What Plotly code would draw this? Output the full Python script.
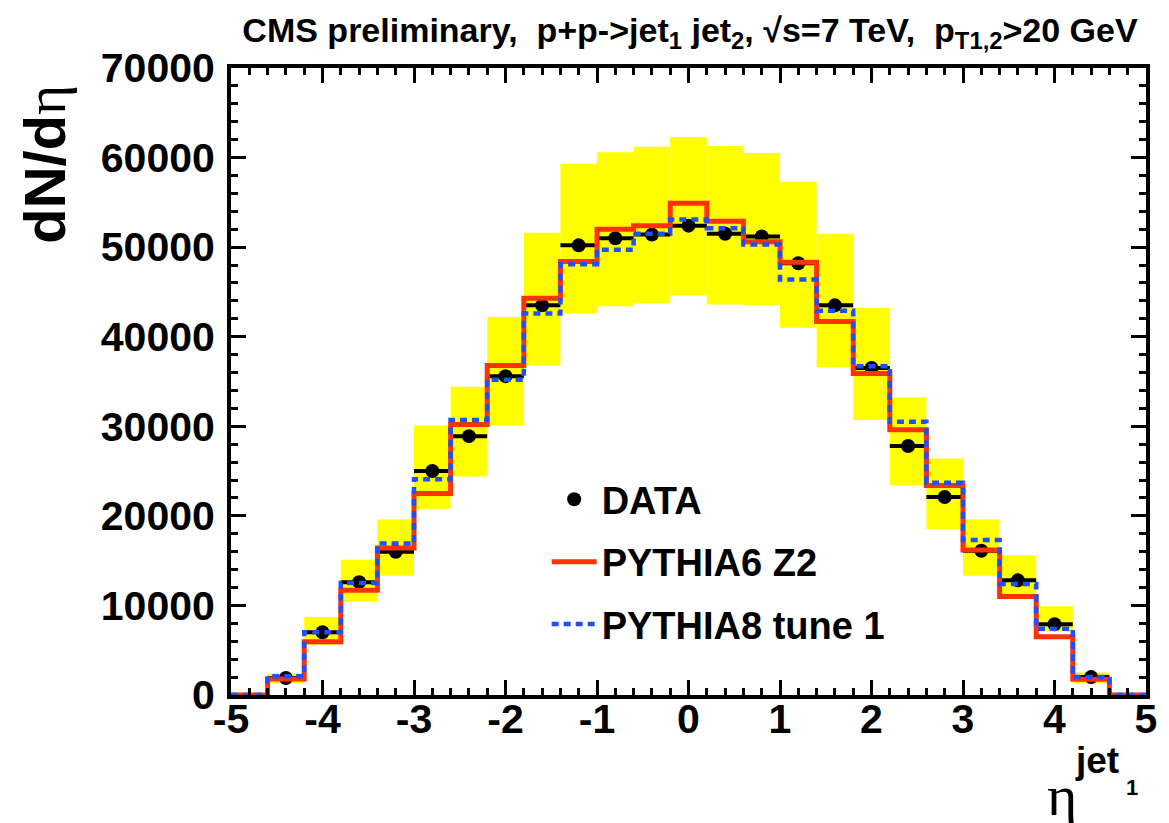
import plotly.graph_objects as go

# ---------------- data ----------------
bin_edges = [-5.0, -4.6, -4.2, -3.8, -3.4, -3.0, -2.6, -2.2, -1.8, -1.4, -1.0, -0.6, -0.2,
             0.2, 0.6, 1.0, 1.4, 1.8, 2.2, 2.6, 3.0, 3.4, 3.8, 4.2, 4.6, 5.0]

pythia6 = [0, 1800, 5950, 11700, 16400, 22500, 30200, 36800, 44300, 48400, 52000, 52400,
           54900, 52900, 50600, 48300, 41700, 35900, 29600, 23400, 16200, 11000, 6500, 1750, 0]
pythia8 = [0, 2100, 7000, 12500, 16900, 24100, 30700, 35200, 42600, 48100, 49700, 51500,
           53100, 52100, 50300, 46400, 42900, 36700, 30500, 23700, 17300, 12400, 7400, 2000, 0]

data_eta = [-4.4, -4.0, -3.6, -3.2, -2.8, -2.4, -2.0, -1.6, -1.2, -0.8, -0.4, 0.0,
            0.4, 0.8, 1.2, 1.6, 2.0, 2.4, 2.8, 3.2, 3.6, 4.0, 4.4]
data_val = [1900, 7000, 12600, 16000, 25000, 28900, 35600, 43500, 50200, 51000, 51400, 52400,
            51500, 51200, 48200, 43500, 36500, 27800, 22100, 16100, 12800, 7900, 2000]
data_xerr = [0.2] * len(data_eta)
sys_high = [2400, 8700, 15100, 19600, 30100, 34400, 42200, 51600, 59300, 60600, 61200, 62300,
            61300, 60500, 57300, 51500, 43200, 33200, 26400, 19600, 15600, 9900, 2500]
sys_low = [1300, 5600, 10400, 13300, 20800, 24400, 30100, 36800, 42600, 43400, 43700, 44600,
           43600, 43500, 41000, 36600, 30700, 23400, 18500, 13300, 10800, 7100, 1300]

x_tickvals = [-5, -4, -3, -2, -1, 0, 1, 2, 3, 4, 5]
x_ticktext = ["-5", "-4", "-3", "-2", "-1", "0", "1", "2", "3", "4", "5"]
y_tickvals = [0, 10000, 20000, 30000, 40000, 50000, 60000, 70000]
y_ticktext = ["0", "10000", "20000", "30000", "40000", "50000", "60000", "70000"]

# ---------------- style ----------------
FONT = "Liberation Sans"
RED = "#FF3300"
BLUE = "#1F4FFF"
YELLOW = "#FFFF00"

fig = go.Figure()

# systematic band
fig.add_trace(go.Bar(
    x=data_eta,
    y=[h - l for h, l in zip(sys_high, sys_low)],
    base=sys_low,
    width=0.4,
    marker=dict(color=YELLOW, line=dict(width=0)),
    showlegend=False,
    hoverinfo="skip",
))

# data points
fig.add_trace(go.Scatter(
    x=data_eta, y=data_val, mode="markers", name="DATA",
    marker=dict(color="black", size=14),
    error_x=dict(type="data", array=data_xerr, color="black", thickness=4, width=0),
    legendgroup="a",
))

# step histograms
fig.add_trace(go.Scatter(
    x=bin_edges, y=pythia6 + [pythia6[-1]], mode="lines", name="PYTHIA6 Z2",
    line=dict(color=RED, width=5, shape="hv"),
    legendgroup="b",
))
fig.add_trace(go.Scatter(
    x=bin_edges, y=pythia8 + [pythia8[-1]], mode="lines", name="PYTHIA8 tune 1",
    line=dict(color=BLUE, width=4.5, shape="hv", dash="7px,5px"),
    legendgroup="c",
))

axis_common = dict(
    showline=True, linecolor="black", linewidth=4, mirror="allticks",
    ticks="inside", tickcolor="black", tickwidth=3, ticklen=15,
    showgrid=False, zeroline=False,
    tickfont=dict(family=FONT, size=41, color="black", weight="bold"),
)

fig.update_xaxes(
    range=[-5, 5], tickmode="array", tickvals=x_tickvals, ticktext=x_ticktext,
    minor=dict(ticks="inside", dtick=0.2, ticklen=7, tickwidth=3, tickcolor="black"),
    ticklabelstandoff=-15,
    **axis_common,
)
fig.update_yaxes(
    range=[0, 70000], tickmode="array", tickvals=y_tickvals, ticktext=y_ticktext,
    minor=dict(ticks="inside", dtick=2000, ticklen=7, tickwidth=3, tickcolor="black"),
    ticklabelstandoff=4,
    **axis_common,
)

fig.update_layout(
    width=1169, height=823,
    margin=dict(l=231, r=12, t=68, b=128),
    paper_bgcolor="white", plot_bgcolor="white",
    barmode="overlay",
    title=dict(
        text="CMS preliminary,  p+p->jet<sub>1</sub> jet<sub>2</sub>, √s=7 TeV,  p<sub>T1,2</sub>>20 GeV",
        x=690 / 1169, xanchor="center", y=1 - 30 / 823, yanchor="middle",
        font=dict(family=FONT, size=34, color="black", weight="bold"),
    ),
    legend=dict(
        x=0.345, y=0.362, xanchor="left", yanchor="top",
        bgcolor="rgba(0,0,0,0)", borderwidth=0,
        font=dict(family=FONT, size=38, color="black", weight="bold"),
        tracegroupgap=10, itemwidth=45,
    ),
    showlegend=True,
)

# y-axis title
fig.add_annotation(
    text="dN/d<span style='font-family:Liberation Serif;font-weight:normal'>η</span>",
    xref="paper", yref="paper", x=(42 - 231) / 926, y=(695 - 83) / 627,
    xanchor="center", yanchor="top", textangle=-90, showarrow=False,
    font=dict(family=FONT, size=58, color="black", weight="bold"),
)
# x-axis title pieces
fig.add_annotation(
    text="η", xref="paper", yref="paper", x=(1072 - 231) / 926, y=(695 - 795) / 627,
    xanchor="center", yanchor="middle", showarrow=False,
    font=dict(family="Liberation Serif", size=58, color="black"),
)
fig.add_annotation(
    text="jet", xref="paper", yref="paper", x=(1107 - 231) / 926, y=(695 - 761) / 627,
    xanchor="center", yanchor="middle", showarrow=False,
    font=dict(family=FONT, size=37, color="black", weight="bold"),
)
fig.add_annotation(
    text="1", xref="paper", yref="paper", x=(1143 - 231) / 926, y=(695 - 787) / 627,
    xanchor="center", yanchor="middle", showarrow=False,
    font=dict(family=FONT, size=22, color="black", weight="bold"),
)

fig.write_html("out.html")
